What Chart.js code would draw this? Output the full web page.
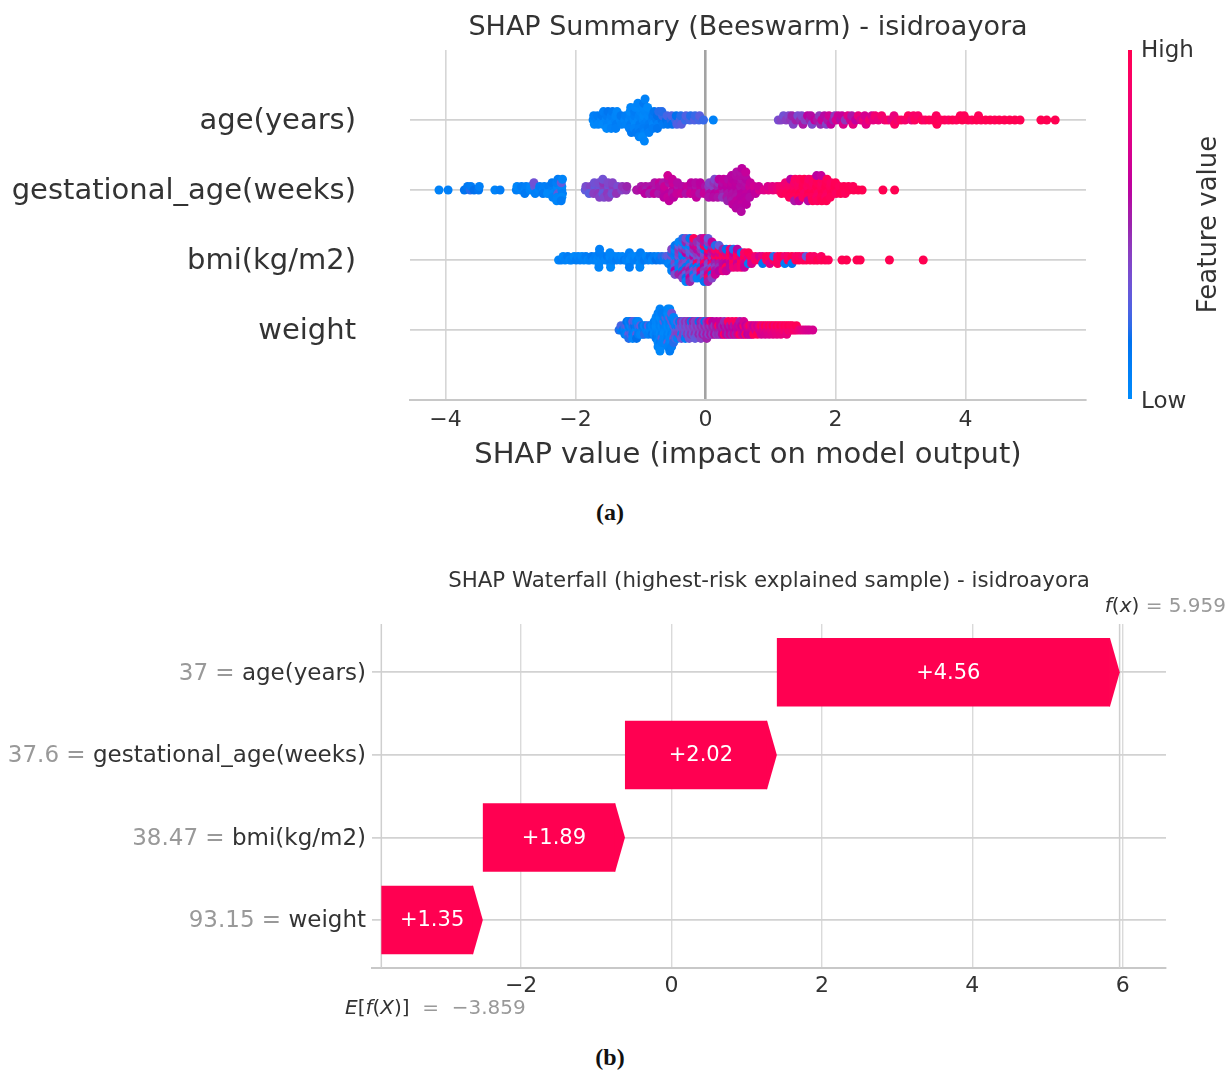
<!DOCTYPE html>
<html>
<head>
<meta charset="utf-8">
<script src="https://cdn.jsdelivr.net/npm/chart.js@4.4.1/dist/chart.umd.min.js"></script>
<style>
  html, body { margin: 0; padding: 0; background: #fff; }
  #page { position: relative; width: 1228px; height: 1070px; overflow: hidden; background: #fff; }
  canvas { position: absolute; left: 0; }
  #swarm { top: 0; }
  #waterfall { top: 540px; }
  .cap { position: absolute; width: 60px; text-align: center; font-family: "Liberation Serif", "DejaVu Serif", serif;
         font-weight: bold; font-size: 24px; line-height: 24px; color: #111; }
</style>
</head>
<body>
<div id="page">
  <canvas id="swarm" width="1228" height="490"></canvas>
  <canvas id="waterfall" width="1228" height="490"></canvas>
  <div class="cap" style="left:580px; top:500px;">(a)</div>
  <div class="cap" style="left:580px; top:1045px;">(b)</div>
</div>
<script>
// ---------------- data: beeswarm ----------------
// Feature order, top row first.
const features = ['age(years)', 'gestational_age(weeks)', 'bmi(kg/m2)', 'weight'];
const swarmTitle = 'SHAP Summary (Beeswarm) - isidroayora';
const swarmXLabel = 'SHAP value (impact on model output)';
const swarmXTicks = [-4, -2, 0, 2, 4];

// Each sample: [SHAP value, normalised feature value (0 = low, 1 = high)]
const ageSamples = [
  [-1.73,.04],[-1.72,.08],[-1.71,.02],
  [-1.67,.06],[-1.66,.10],[-1.65,.03],
  [-1.60,.05],[-1.59,.12],[-1.58,.02],[-1.57,.08],
  [-1.53,.04],[-1.52,.10],[-1.51,.06],[-1.50,.14],[-1.52,.02],
  [-1.46,.05],[-1.45,.08],[-1.44,.03],[-1.43,.12],[-1.45,.06],
  [-1.39,.06],[-1.38,.04],[-1.37,.10],[-1.36,.03],[-1.38,.08],
  [-1.31,.05],[-1.30,.12],[-1.29,.07],
  [-1.24,.04],[-1.23,.09],[-1.22,.06],
  [-1.17,.03],[-1.16,.06],[-1.15,.10],[-1.16,.02],[-1.17,.08],[-1.15,.04],[-1.14,.12],
  [-1.10,.04],[-1.09,.08],[-1.08,.02],[-1.09,.10],[-1.10,.06],[-1.08,.03],[-1.07,.12],
  [-1.03,.03],[-1.02,.06],[-1.01,.10],[-1.00,.04],[-1.02,.08],[-1.03,.02],[-1.01,.12],[-1.04,.05],[-1.02,.07],
  [-0.96,.05],[-0.95,.02],[-0.94,.08],[-0.93,.04],[-0.95,.10],[-0.96,.03],[-0.94,.06],[-0.95,.12],[-0.97,.02],[-0.93,.07],[-0.94,.04],
  [-0.89,.06],[-0.88,.03],[-0.87,.10],[-0.86,.05],[-0.88,.12],[-0.89,.02],[-0.87,.08],
  [-0.82,.08],[-0.81,.12],[-0.80,.05],[-0.79,.15],[-0.81,.10],
  [-0.75,.12],[-0.74,.18],[-0.73,.08],[-0.72,.20],[-0.74,.14],
  [-0.67,.16],[-0.66,.22],[-0.65,.12],[-0.67,.20],
  [-0.60,.18],[-0.59,.24],[-0.58,.14],
  [-0.53,.20],[-0.52,.26],[-0.51,.16],
  [-0.46,.22],[-0.45,.18],[-0.44,.26],
  [-0.39,.24],[-0.38,.20],[-0.37,.28],
  [-0.31,.22],[-0.30,.26],
  [-0.24,.24],[-0.23,.20],
  [-0.17,.26],[-0.16,.22],
  [-0.10,.24],[-0.09,.28],
  [-0.03,.22],
  [0.12,.06],
  [1.12,.36],[1.16,.40],[1.20,.34],[1.24,.42],[1.28,.38],[1.31,.45],[1.33,.50],[1.35,.40],[1.39,.52],[1.42,.36],
  [1.46,.48],[1.48,.38],[1.50,.55],[1.53,.42],[1.57,.60],[1.61,.50],[1.62,.58],[1.64,.38],[1.68,.62],[1.72,.55],
  [1.75,.45],[1.77,.48],[1.79,.65],[1.83,.58],[1.86,.40],[1.88,.55],[1.90,.68],[1.93,.62],[1.97,.50],[1.99,.44],
  [2.01,.70],[2.04,.66],[2.08,.58],[2.10,.64],[2.12,.72],[2.15,.45],[2.19,.75],[2.23,.68],[2.25,.55],[2.27,.78],
  [2.31,.62],[2.35,.80],[2.39,.72],[2.43,.82],[2.45,.70],[2.47,.76],[2.52,.85],[2.56,.70],[2.58,.78],[2.61,.86],
  [2.66,.80],[2.71,.88],[2.76,.84],[2.81,.90],[2.86,.78],[2.90,.80],[2.91,.92],[2.96,.86],[3.01,.93],[3.07,.88],
  [3.12,.95],[3.17,.82],[3.20,.90],[3.22,.94],[3.27,.90],[3.33,.96],[3.38,.92],[3.44,.97],[3.50,.94],[3.55,.94],
  [3.56,.98],[3.62,.95],[3.68,.97],[3.74,.93],[3.80,.99],[3.86,.96],[3.92,.98],[3.95,1],[3.98,.97],[4.04,.99],
  [4.10,.96],[4.17,1],[4.20,.97],[4.24,.98],[4.31,.99],[4.38,1],[4.45,.98],[4.52,1],[4.60,.99],[4.68,1],
  [4.76,1],[4.84,.99],[5.16,1],[5.25,1],[5.38,1]
];

const gestSamples = [
  [-4.10,.06],[-3.96,.08],
  [-3.71,.16],[-3.66,.12],[-3.62,.20],[-3.61,.10],[-3.56,.18],[-3.49,.14],[-3.48,.08],
  [-3.24,.06],[-3.16,.10],
  [-2.91,.08],[-2.90,.04],
  [-2.84,.06],[-2.83,.10],
  [-2.77,.04],[-2.76,.08],[-2.78,.12],
  [-2.70,.06],[-2.69,.03],
  [-2.63,.05],[-2.63,.30],[-2.62,.08],[-2.64,.34],
  [-2.56,.06],[-2.55,.10],
  [-2.49,.04],[-2.48,.08],[-2.50,.12],
  [-2.42,.05],[-2.41,.10],[-2.43,.02],
  [-2.35,.04],[-2.35,.08],[-2.34,.02],[-2.36,.12],[-2.35,.06],
  [-2.28,.05],[-2.28,.02],[-2.27,.30],[-2.29,.08],[-2.28,.04],[-2.27,.10],[-2.29,.03],
  [-2.21,.06],[-2.21,.03],[-2.20,.08],[-2.22,.30],[-2.21,.02],[-2.20,.05],[-2.22,.10],
  [-1.85,.30],[-1.84,.36],
  [-1.78,.34],[-1.77,.40],[-1.79,.28],
  [-1.71,.36],[-1.70,.30],[-1.72,.42],[-1.71,.34],
  [-1.64,.38],[-1.63,.32],[-1.65,.44],[-1.64,.36],[-1.63,.40],
  [-1.57,.36],[-1.56,.42],[-1.58,.30],[-1.57,.46],[-1.56,.38],[-1.58,.34],
  [-1.50,.40],[-1.49,.34],[-1.51,.44],[-1.50,.38],[-1.49,.42],
  [-1.43,.38],[-1.42,.44],[-1.44,.34],[-1.43,.40],
  [-1.36,.42],[-1.35,.36],[-1.37,.46],
  [-1.29,.40],[-1.28,.46],
  [-1.22,.44],[-1.21,.50],
  [-1.06,.52],[-1.05,.56],
  [-0.99,.54],[-0.98,.58],
  [-0.92,.56],[-0.91,.52],[-0.93,.60],
  [-0.85,.55],[-0.84,.60],[-0.86,.52],
  [-0.78,.58],[-0.77,.54],[-0.79,.62],[-0.78,.56],
  [-0.71,.56],[-0.70,.60],[-0.72,.54],[-0.71,.64],[-0.70,.58],
  [-0.64,.58],[-0.63,.62],[-0.65,.55],[-0.64,.60],[-0.63,.66],
  [-0.57,.60],[-0.56,.56],[-0.58,.64],[-0.57,.58],[-0.56,.62],[-0.58,.68],
  [-0.50,.58],[-0.49,.62],[-0.51,.56],[-0.50,.66],[-0.49,.60],[-0.51,.64],
  [-0.43,.60],[-0.42,.56],[-0.44,.64],[-0.43,.58],
  [-0.36,.62],[-0.35,.58],[-0.37,.66],
  [-0.29,.60],[-0.28,.64],[-0.30,.56],
  [-0.22,.62],[-0.21,.58],[-0.23,.66],[-0.22,.60],
  [-0.15,.60],[-0.14,.56],[-0.16,.64],[-0.15,.58],[-0.14,.62],
  [-0.08,.58],[-0.07,.62],[-0.09,.55],[-0.08,.60],
  [-0.01,.60],[0.00,.56],[-0.02,.64],
  [0.06,.52],[0.05,.44],[0.07,.58],[0.06,.40],[0.05,.56],
  [0.13,.56],[0.12,.42],[0.14,.60],[0.13,.46],[0.12,.58],[0.14,.38],
  [0.20,.58],[0.19,.50],[0.21,.62],[0.20,.44],[0.19,.56],[0.21,.60],
  [0.27,.56],[0.26,.60],[0.28,.52],[0.27,.58],[0.26,.46],[0.28,.62],
  [0.34,.58],[0.33,.60],[0.35,.55],[0.34,.62],[0.33,.56],[0.35,.58],[0.34,.50],
  [0.41,.58],[0.40,.60],[0.42,.56],[0.41,.62],[0.40,.57],[0.42,.60],[0.41,.55],[0.40,.59],[0.42,.61],
  [0.48,.58],[0.47,.60],[0.49,.57],[0.48,.61],[0.47,.56],[0.49,.59],[0.48,.62],[0.47,.58],[0.49,.60],[0.48,.57],[0.47,.59],
  [0.55,.59],[0.54,.57],[0.56,.60],[0.55,.58],[0.54,.61],[0.56,.56],[0.55,.60],[0.54,.58],[0.56,.62],[0.55,.57],[0.54,.59],[0.56,.60],[0.55,.58],
  [0.62,.60],[0.61,.58],[0.63,.62],[0.62,.57],[0.61,.60],[0.63,.59],[0.62,.61],[0.61,.58],[0.63,.60],[0.62,.64],
  [0.69,.62],[0.68,.66],[0.70,.60],[0.69,.64],[0.68,.58],
  [0.76,.64],[0.75,.68],[0.77,.62],
  [0.83,.70],[0.82,.66],
  [0.90,.74],
  [0.97,.78],[0.96,.72],
  [1.04,.80],[1.03,.76],
  [1.11,.84],[1.10,.80],
  [1.16,.90],[1.15,.86],[1.17,.94],
  [1.23,.92],[1.22,.88],[1.24,.96],[1.23,.84],
  [1.30,.94],[1.29,.90],[1.31,.98],[1.30,.86],[1.29,.95],[1.31,.60],
  [1.37,.95],[1.36,.92],[1.38,.98],[1.37,.88],[1.36,.96],[1.38,.93],[1.37,.55],
  [1.44,.96],[1.43,.92],[1.45,.99],[1.44,.90],[1.43,.97],[1.45,.94],[1.44,.62],
  [1.51,.95],[1.50,.98],[1.52,.91],[1.51,.97],[1.50,.93],[1.52,.99],
  [1.58,.96],[1.57,.92],[1.59,.99],[1.58,.94],[1.57,.97],[1.59,.90],[1.58,.58],
  [1.65,.97],[1.64,.94],[1.66,.99],[1.65,.91],[1.64,.96],[1.66,.93],[1.65,.98],
  [1.72,.96],[1.71,.99],[1.73,.93],[1.72,.97],[1.71,.90],[1.73,.98],[1.72,.94],[1.71,.60],
  [1.79,.98],[1.78,.95],[1.80,.99],[1.79,.92],[1.78,.97],[1.80,.94],[1.79,.99],[1.78,.64],
  [1.86,.97],[1.85,.99],[1.87,.94],[1.86,.98],[1.85,.92],[1.87,.96],[1.86,.99],
  [1.93,.98],[1.92,.95],[1.94,.99],[1.93,.93],[1.92,.97],
  [2.00,.97],[1.99,.99],[2.01,.94],[2.00,.98],
  [2.07,.98],[2.06,.95],[2.08,.99],
  [2.14,.97],[2.13,.99],[2.15,.96],
  [2.21,.98],[2.20,.99],
  [2.28,.99],[2.27,.97],
  [2.35,.99],
  [2.41,1],
  [2.73,1],[2.91,1]
];

const bmiSamples = [
  [-2.26,.04],[-2.22,.08],[-2.19,.03],[-2.16,.06],[-2.12,.10],[-2.09,.04],[-2.06,.07],[-2.02,.02],[-1.99,.09],[-1.96,.05],
  [-1.93,.08],[-1.90,.03],[-1.87,.06],[-1.84,.10],[-1.81,.04],[-1.78,.07],[-1.75,.12],[-1.72,.05],[-1.69,.08],[-1.66,.03],
  [-1.64,.06],[-1.64,.02],[-1.63,.10],[-1.64,.05],[-1.63,.08],
  [-1.60,.04],[-1.57,.09],[-1.54,.05],[-1.51,.12],
  [-1.47,.06],[-1.47,.03],[-1.46,.09],[-1.47,.05],[-1.46,.02],
  [-1.43,.07],[-1.40,.04],[-1.37,.10],[-1.34,.05],[-1.31,.08],[-1.28,.03],[-1.25,.12],[-1.22,.06],[-1.19,.09],
  [-1.17,.04],[-1.17,.08],[-1.16,.02],[-1.17,.10],
  [-1.13,.05],[-1.10,.08],[-1.07,.03],[-1.04,.10],
  [-1.01,.06],[-1.01,.02],[-1.00,.09],[-1.01,.04],
  [-0.97,.07],[-0.94,.12],[-0.91,.05],[-0.88,.09],[-0.85,.15],[-0.82,.06],[-0.79,.10],[-0.76,.18],[-0.73,.08],[-0.70,.14],
  [-0.67,.20],[-0.64,.10],[-0.61,.24],
  [-0.58,.10],[-0.58,.30],[-0.57,.06],
  [-0.52,.08],[-0.52,.34],[-0.52,.04],[-0.52,.20],[-0.52,.12],[-0.52,.40],[-0.52,.06],
  [-0.47,.30],[-0.47,.06],[-0.47,.40],[-0.47,.10],[-0.47,.26],[-0.47,.04],[-0.47,.60],[-0.47,.14],[-0.47,.36],
  [-0.41,.12],[-0.41,.36],[-0.41,.06],[-0.41,.42],[-0.41,.20],[-0.41,.46],[-0.41,.08],[-0.41,.30],[-0.41,.50],[-0.41,.04],
  [-0.35,.34],[-0.35,.10],[-0.35,.44],[-0.35,.06],[-0.35,.38],[-0.35,.48],[-0.35,.14],[-0.35,.30],[-0.35,.56],[-0.35,.04],[-0.35,.40],[-0.35,.20],
  [-0.30,.40],[-0.30,.08],[-0.30,.36],[-0.30,.60],[-0.30,.12],[-0.30,.44],[-0.30,.54],[-0.30,.06],[-0.30,.30],[-0.30,.50],[-0.30,.18],[-0.30,.38],[-0.30,.04],
  [-0.24,.36],[-0.24,.46],[-0.24,.10],[-0.24,.26],[-0.24,.40],[-0.24,.30],[-0.24,.56],[-0.24,.06],[-0.24,.44],[-0.24,.34],[-0.24,.62],[-0.24,.14],[-0.24,.50],
  [-0.18,.42],[-0.18,.60],[-0.18,.30],[-0.18,.28],[-0.18,.12],[-0.18,.46],[-0.18,.38],[-0.18,.66],[-0.18,.08],[-0.18,.52],[-0.18,.34],[-0.18,.96],
  [-0.13,.50],[-0.13,.36],[-0.13,.94],[-0.13,.44],[-0.13,.10],[-0.13,.58],[-0.13,.40],[-0.13,.70],[-0.13,.30],[-0.13,.48],[-0.13,.06],
  [-0.07,.46],[-0.07,.36],[-0.07,.38],[-0.07,.56],[-0.07,.12],[-0.07,.44],[-0.07,.98],[-0.07,.32],[-0.07,.62],[-0.07,.40],[-0.07,.08],[-0.07,.52],
  [-0.02,.50],[-0.02,.42],[-0.02,.92],[-0.02,.36],[-0.02,.60],[-0.02,.10],[-0.02,.46],[-0.02,.96],[-0.02,.30],[-0.02,.56],[-0.02,.40],[-0.02,.70],[-0.02,.14],
  [0.04,.56],[0.04,.90],[0.04,.40],[0.04,.62],[0.04,.34],[0.04,.98],[0.04,.48],[0.04,.12],[0.04,.66],[0.04,.44],[0.04,.94],[0.04,.30],[0.04,.52],
  [0.10,.60],[0.10,.44],[0.10,.92],[0.10,.52],[0.10,.36],[0.10,.70],[0.10,.98],[0.10,.48],[0.10,.16],[0.10,.64],[0.10,.40],
  [0.15,.62],[0.15,.94],[0.15,.50],[0.15,.70],[0.15,.42],[0.15,.90],[0.15,.56],[0.15,.20],[0.15,.66],
  [0.21,.66],[0.21,.96],[0.21,.54],[0.21,.72],[0.21,.46],[0.21,.92],[0.21,.60],[0.21,.30],
  [0.27,.70],[0.27,.90],[0.27,.58],[0.27,.98],[0.27,.64],[0.27,.50],[0.27,.76],
  [0.32,.68],[0.32,.94],[0.32,.60],[0.32,.74],[0.32,.96],[0.32,.16],[0.32,.66],
  [0.38,.72],[0.38,.92],[0.38,.64],[0.38,.98],[0.38,.58],[0.38,.80],
  [0.43,.90],[0.43,.70],[0.43,.96],[0.43,.62],[0.43,.84],[0.43,.20],
  [0.49,.74],[0.49,.94],[0.49,.66],[0.49,.98],[0.49,.80],[0.49,.60],
  [0.55,.92],[0.55,.72],[0.55,.96],[0.55,.12],[0.55,.86],
  [0.60,.78],[0.60,.98],[0.60,.70],[0.60,.90],[0.60,.64],
  [0.66,.94],[0.66,.76],[0.66,.10],[0.66,.98],
  [0.71,.80],[0.71,.96],[0.71,.72],
  [0.77,.92],[0.77,.84],
  [0.83,.92],[0.83,.70],
  [0.88,.96],[0.88,.80],[0.88,.14],
  [0.94,.90],[0.94,.98],
  [0.99,.86],[0.99,.96],[0.99,.74],
  [1.05,.94],[1.05,.20],
  [1.11,.98],[1.11,.88],[1.11,.92],
  [1.16,.90],[1.16,.99],
  [1.22,.96],[1.22,.84],[1.22,.10],
  [1.27,.98],[1.27,.90],
  [1.33,.94],[1.33,.99],[1.33,.12],
  [1.39,.97],[1.39,.88],
  [1.44,.99],[1.44,.92],
  [1.50,.96],[1.50,.86],
  [1.55,.98],[1.55,.30],
  [1.61,.99],[1.61,.94],
  [1.67,.97],[1.67,.90],
  [1.72,.99],
  [1.78,.98],[1.78,.93],
  [1.84,.99],
  [1.89,.97],
  [2.10,.99],[2.17,1],[2.33,.99],[2.38,1],
  [2.83,1],[3.35,1]
];

const weightSamples = [
  [-1.33,.20],
  [-1.30,.08],[-1.30,.24],
  [-1.27,.12],
  [-1.24,.06],[-1.24,.22],[-1.24,.10],
  [-1.21,.08],[-1.21,.28],[-1.21,.04],[-1.21,.18],
  [-1.18,.05],[-1.18,.12],[-1.18,.30],[-1.18,.08],[-1.18,.20],
  [-1.15,.10],[-1.15,.04],[-1.15,.26],[-1.15,.14],
  [-1.12,.06],[-1.12,.20],[-1.12,.10],[-1.12,.32],[-1.12,.04],
  [-1.09,.08],[-1.09,.16],[-1.09,.05],[-1.09,.24],
  [-1.06,.04],[-1.06,.12],[-1.06,.28],[-1.06,.07],[-1.06,.18],
  [-1.03,.06],[-1.03,.22],[-1.03,.10],[-1.03,.04],
  [-1.00,.08],[-1.00,.30],[-1.00,.05],
  [-0.97,.06],[-0.97,.14],[-0.97,.03],
  [-0.94,.10],[-0.94,.04],[-0.94,.20],
  [-0.91,.06],[-0.91,.12],
  [-0.88,.04],[-0.88,.26],[-0.88,.08],
  [-0.85,.05],[-0.85,.10],
  [-0.82,.06],[-0.82,.03],[-0.82,.14],
  [-0.79,.04],[-0.79,.08],[-0.79,.02],[-0.79,.10],
  [-0.76,.05],[-0.76,.02],[-0.76,.08],[-0.76,.04],[-0.76,.12],[-0.76,.03],
  [-0.73,.04],[-0.73,.02],[-0.73,.07],[-0.73,.03],[-0.73,.10],[-0.73,.05],[-0.73,.01],[-0.73,.08],[-0.73,.04],
  [-0.70,.03],[-0.70,.06],[-0.70,.02],[-0.70,.08],[-0.70,.04],[-0.70,.01],[-0.70,.10],[-0.70,.05],[-0.70,.03],[-0.70,.07],[-0.70,.02],
  [-0.67,.05],[-0.67,.02],[-0.67,.08],[-0.67,.04],[-0.67,.28],[-0.67,.03],[-0.67,.06],[-0.67,.10],
  [-0.64,.04],[-0.64,.07],[-0.64,.02],[-0.64,.30],[-0.64,.05],[-0.64,.09],
  [-0.61,.03],[-0.61,.06],[-0.61,.02],[-0.61,.08],[-0.61,.04],[-0.61,.26],[-0.61,.05],[-0.61,.10],
  [-0.58,.04],[-0.58,.02],[-0.58,.07],[-0.58,.03],[-0.58,.09],[-0.58,.05],[-0.58,.30],[-0.58,.01],[-0.58,.06],[-0.58,.04],
  [-0.55,.03],[-0.55,.06],[-0.55,.02],[-0.55,.08],[-0.55,.04],[-0.55,.32],[-0.55,.05],[-0.55,.01],[-0.55,.07],[-0.55,.03],[-0.55,.10],
  [-0.52,.05],[-0.52,.02],[-0.52,.08],[-0.52,.30],[-0.52,.04],[-0.52,.06],[-0.52,.03],[-0.52,.34],[-0.52,.09],
  [-0.49,.06],[-0.49,.28],[-0.49,.03],[-0.49,.10],[-0.49,.36],[-0.49,.05],[-0.49,.20],
  [-0.46,.30],[-0.46,.08],[-0.46,.38],[-0.46,.04],[-0.46,.24],
  [-0.43,.32],[-0.43,.10],[-0.43,.40],[-0.43,.28],[-0.43,.06],
  [-0.40,.34],[-0.40,.26],[-0.40,.42],[-0.40,.12],
  [-0.37,.30],[-0.37,.38],[-0.37,.08],[-0.37,.44],[-0.37,.32],
  [-0.34,.36],[-0.34,.28],[-0.34,.42],[-0.34,.30],
  [-0.31,.34],[-0.31,.40],[-0.31,.26],[-0.31,.46],[-0.31,.10],
  [-0.28,.38],[-0.28,.32],[-0.28,.44],[-0.28,.36],
  [-0.25,.36],[-0.25,.42],[-0.25,.30],[-0.25,.48],[-0.25,.34],
  [-0.22,.40],[-0.22,.34],[-0.22,.46],[-0.22,.12],
  [-0.19,.38],[-0.19,.44],[-0.19,.32],[-0.19,.50],
  [-0.16,.42],[-0.16,.36],[-0.16,.48],[-0.16,.40],[-0.16,.30],
  [-0.13,.40],[-0.13,.46],[-0.13,.34],[-0.13,.44],
  [-0.10,.44],[-0.10,.38],[-0.10,.50],[-0.10,.16],
  [-0.07,.42],[-0.07,.48],[-0.07,.36],[-0.07,.52],[-0.07,.40],
  [-0.04,.46],[-0.04,.40],[-0.04,.54],[-0.04,.44],
  [-0.01,.44],[-0.01,.50],[-0.01,.38],[-0.01,.14],
  [0.02,.48],[0.02,.42],[0.02,.56],[0.02,.46],[0.02,.52],
  [0.05,.46],[0.05,.52],[0.05,.40],[0.05,.58],
  [0.08,.50],[0.08,.44],[0.08,.56],[0.08,.92],
  [0.11,.48],[0.11,.54],[0.11,.42],[0.11,.60],
  [0.14,.52],[0.14,.46],[0.14,.58],
  [0.17,.50],[0.17,.56],[0.17,.44],[0.17,.62],
  [0.20,.54],[0.20,.90],[0.20,.48],
  [0.23,.52],[0.23,.58],[0.23,.46],[0.23,.64],
  [0.26,.56],[0.26,.50],[0.26,.62],
  [0.29,.54],[0.29,.60],[0.29,.92],[0.29,.48],
  [0.32,.58],[0.32,.52],[0.32,.64],
  [0.35,.56],[0.35,.62],[0.35,.50],[0.35,.94],
  [0.38,.60],[0.38,.54],[0.38,.66],
  [0.41,.58],[0.41,.64],[0.41,.52],[0.41,.90],
  [0.44,.62],[0.44,.56],[0.44,.68],
  [0.47,.60],[0.47,.66],[0.47,.54],[0.47,.94],
  [0.50,.64],[0.50,.58],[0.50,.70],
  [0.53,.62],[0.53,.68],[0.53,.96],[0.53,.56],
  [0.56,.66],[0.56,.60],[0.56,.72],
  [0.59,.64],[0.59,.92],[0.59,.58],[0.59,.70],
  [0.62,.68],[0.62,.62],[0.62,.96],
  [0.65,.66],[0.65,.72],[0.65,.60],
  [0.68,.70],[0.68,.94],[0.68,.64],
  [0.71,.68],[0.71,.74],[0.71,.62],
  [0.74,.72],[0.74,.66],[0.74,.96],
  [0.77,.70],[0.77,.76],
  [0.80,.74],[0.80,.68],[0.80,.98],
  [0.83,.72],[0.83,.78],
  [0.86,.76],[0.86,.96],[0.86,.70],
  [0.89,.74],[0.89,.80],
  [0.92,.78],[0.92,.98],[0.92,.72],
  [0.95,.76],[0.95,.82],
  [0.98,.80],[0.98,.97],[0.98,.74],
  [1.01,.78],[1.01,.84],
  [1.04,.82],[1.04,.99],[1.04,.76],
  [1.07,.80],[1.07,.86],
  [1.10,.84],[1.10,.98],[1.10,.78],
  [1.13,.82],[1.13,.88],
  [1.16,.86],[1.16,.99],[1.16,.80],
  [1.19,.84],[1.19,.90],
  [1.22,.88],[1.22,.98],
  [1.25,.86],[1.25,.92],[1.25,.80],
  [1.28,.90],[1.28,.99],
  [1.31,.84],[1.31,.94],
  [1.34,.88],[1.34,.96],
  [1.37,.90],
  [1.40,.86],[1.40,.98],
  [1.44,.82],[1.48,.78],[1.52,.74],[1.56,.72],[1.60,.70],[1.65,.70]
];

// ---------------- data: waterfall ----------------
const wfTitle = 'SHAP Waterfall (highest-risk explained sample) - isidroayora';
const wfFeatures = ['age(years)', 'gestational_age(weeks)', 'bmi(kg/m2)', 'weight'];
const wfFeatureValues = ['37', '37.6', '38.47', '93.15'];
const wfShap = [4.56, 2.02, 1.89, 1.35];
const wfBase = -3.859;     // E[f(X)]
const wfOutput = 5.959;    // f(x)
const wfXTicks = [-2, 0, 2, 4, 6];

// ---------------- helpers ----------------
const SANS = '"DejaVu Sans", "Liberation Sans", Arial, sans-serif';
const DARK = '#333333';
const GRAY = '#999999';
const BAR_RED = '#ff0051';
const ROW_HEIGHT = 0.4;

function font(px, style) { return (style ? style + ' ' : '') + px + 'px ' + SANS; }
function minusLabel(v) { return v < 0 ? '\u2212' + Math.abs(v) : String(v); }

// Blue -> red map interpolated in LCh space
function redBlue(t) {
  t = Math.min(1, Math.max(0, t));
  const L = t < 0.5 ? 54 - 28 * t : 40 + 28 * (t - 0.5);
  const C = 70 + 20 * t;
  const h = 4.6588 + (0.35470565 + 2 * Math.PI - 4.6588) * t;
  const a = C * Math.cos(h), b = C * Math.sin(h);
  const fy = (L + 16) / 116, fx = fy + a / 500, fz = fy - b / 200;
  const inv = f => f > 6 / 29 ? f * f * f : 3 * (6 / 29) * (6 / 29) * (f - 4 / 29);
  const X = 0.95047 * inv(fx), Y = inv(fy), Z = 1.08883 * inv(fz);
  const lin = [3.2404542 * X - 1.5371385 * Y - 0.4985314 * Z,
              -0.9692660 * X + 1.8760108 * Y + 0.0415560 * Z,
               0.0556434 * X - 0.2040259 * Y + 1.0572252 * Z];
  const rgb = lin.map(c => {
    c = c <= 0.0031308 ? 12.92 * c : 1.055 * Math.pow(c, 1 / 2.4) - 0.055;
    return Math.round(255 * Math.min(1, Math.max(0, c)));
  });
  return 'rgb(' + rgb.join(',') + ')';
}

// Beeswarm stacking: bin the values into 100 bins, then stack each bin outward
function swarmOffsets(values) {
  const lo = Math.min(...values), hi = Math.max(...values);
  const quant = values.map(v => Math.round(100 * (v - lo) / (hi - lo + 1e-8)));
  const order = values.map((_, i) => i).sort((p, q) => quant[p] - quant[q] || p - q);
  const ys = new Array(values.length).fill(0);
  let layer = 0, lastBin = -1;
  for (const i of order) {
    if (quant[i] !== lastBin) layer = 0;
    ys[i] = Math.ceil(layer / 2) * ((layer % 2) * 2 - 1);
    layer++;
    lastBin = quant[i];
  }
  const k = 0.9 * (ROW_HEIGHT / Math.max(...ys.map(v => v + 1)));
  return ys.map(v => v * k);
}

// ---------------- chart (a): beeswarm ----------------
const swarmRows = [ageSamples, gestSamples, bmiSamples, weightSamples];
const swarmDatasets = swarmRows.map((rows, i) => {
  const rowY = features.length - 1 - i;
  const offs = swarmOffsets(rows.map(r => r[0]));
  return {
    label: features[i],
    data: rows.map((r, j) => ({ x: r[0], y: rowY + offs[j] })),
    backgroundColor: rows.map(r => redBlue(r[1])),
    pointRadius: 4.5,
    pointHoverRadius: 4.5,
    pointBorderWidth: 0,
    borderWidth: 0
  };
});

const swarmDecor = {
  id: 'swarmDecor',
  afterDraw(chart) {
    const { ctx, chartArea: a } = chart;
    ctx.save();
    ctx.fillStyle = DARK;
    ctx.textBaseline = 'middle';
    ctx.textAlign = 'center';
    ctx.font = font(27);
    ctx.fillText(swarmTitle, (a.left + a.right) / 2, 28);

    // colour bar
    const x0 = 1128, top = a.top, bot = a.bottom - 1;
    const g = ctx.createLinearGradient(0, bot, 0, top);
    for (let i = 0; i <= 24; i++) g.addColorStop(i / 24, redBlue(i / 24));
    ctx.fillStyle = g;
    ctx.fillRect(x0, top, 4, bot - top);

    ctx.fillStyle = DARK;
    ctx.font = font(23);
    ctx.textAlign = 'left';
    ctx.fillText('High', x0 + 13, top + 1);
    ctx.fillText('Low', x0 + 13, bot + 3);
    ctx.translate(1209, (top + bot) / 2);
    ctx.rotate(-Math.PI / 2);
    ctx.textAlign = 'center';
    ctx.font = font(26);
    ctx.fillText('Feature value', 0, 0);
    ctx.restore();
  }
};

new Chart(document.getElementById('swarm'), {
  type: 'scatter',
  data: { datasets: swarmDatasets },
  options: {
    responsive: false,
    devicePixelRatio: 1,
    animation: false,
    events: [],
    layout: { padding: { left: 0, top: 50, right: 142, bottom: 0 } },
    plugins: { legend: { display: false }, tooltip: { enabled: false } },
    scales: {
      x: {
        type: 'linear',
        min: -4.546,
        max: 5.854,
        afterBuildTicks: s => { s.ticks = swarmXTicks.map(v => ({ value: v })); },
        afterFit: s => { s.height = 90; s.paddingLeft = 0; s.paddingRight = 0; },
        ticks: {
          autoSkip: false, maxRotation: 0, padding: 7,
          font: { family: SANS, size: 22 }, color: DARK,
          callback: v => minusLabel(v)
        },
        grid: {
          drawTicks: false,
          color: c => (c.tick && c.tick.value === 0) ? '#a3a3a3' : '#d6d6d6',
          lineWidth: c => (c.tick && c.tick.value === 0) ? 2.6 : 1.6
        },
        border: { display: true, color: '#c8c8c8', width: 2 },
        title: {
          display: true, text: swarmXLabel, color: DARK,
          font: { family: SANS, size: 29 }, padding: { top: 0, bottom: 17.6 }
        }
      },
      y: {
        type: 'linear',
        min: -1,
        max: 4,
        afterBuildTicks: s => { s.ticks = [0, 1, 2, 3].map(v => ({ value: v })); },
        afterFit: s => { s.width = 410; s.paddingTop = 0; s.paddingBottom = 0; },
        ticks: {
          autoSkip: false, padding: 54, labelOffset: 1.5,
          font: { family: SANS, size: 29 }, color: DARK,
          callback: v => features[features.length - 1 - v]
        },
        grid: { drawTicks: false, color: '#d2d2d2', lineWidth: 1.8 },
        border: { display: false }
      }
    }
  },
  plugins: [swarmDecor]
});

// ---------------- chart (b): waterfall ----------------
const HEAD = 0.13; // arrow head length in x units
const wfSegments = [];
(function () {
  let acc = wfBase;
  for (let i = wfFeatures.length - 1; i >= 0; i--) {
    wfSegments[i] = { row: wfFeatures.length - 1 - i, start: acc, end: acc + wfShap[i], value: wfShap[i] };
    acc += wfShap[i];
  }
})();

function drawPieces(ctx, pieces, x, y, align, px) {
  let total = 0;
  pieces.forEach(p => { ctx.font = font(px, p[1] ? 'italic' : ''); total += ctx.measureText(p[0]).width; });
  let cx = align === 'right' ? x - total : x;
  ctx.textAlign = 'left';
  pieces.forEach(p => {
    ctx.font = font(px, p[1] ? 'italic' : '');
    ctx.fillStyle = p[2];
    ctx.fillText(p[0], cx, y);
    cx += ctx.measureText(p[0]).width;
  });
}

const wfDecor = {
  id: 'wfDecor',
  beforeDatasetsDraw(chart) {
    const { ctx, chartArea: a, scales: { x } } = chart;
    ctx.save();
    ctx.strokeStyle = '#cfcfcf';
    ctx.lineWidth = 1.5;
    [wfBase, wfOutput].forEach(v => {
      const px = x.getPixelForValue(v);
      ctx.beginPath(); ctx.moveTo(px, a.top); ctx.lineTo(px, a.bottom); ctx.stroke();
    });
    ctx.restore();
  },
  afterDatasetsDraw(chart) {
    const { ctx, scales: { x } } = chart;
    const meta = chart.getDatasetMeta(0);
    ctx.save();
    meta.data.forEach((bar, i) => {
      const p = bar.getProps(['y', 'height'], true);
      const seg = wfSegments[i];
      const half = p.height / 2;
      const body = x.getPixelForValue(seg.end - HEAD);
      const tip = x.getPixelForValue(seg.end);
      ctx.fillStyle = BAR_RED;
      ctx.beginPath();
      ctx.moveTo(body - 0.6, p.y - half);
      ctx.lineTo(body, p.y - half);
      ctx.lineTo(tip, p.y);
      ctx.lineTo(body, p.y + half);
      ctx.lineTo(body - 0.6, p.y + half);
      ctx.closePath();
      ctx.fill();
      ctx.fillStyle = '#ffffff';
      ctx.font = font(21);
      ctx.textAlign = 'center';
      ctx.textBaseline = 'middle';
      ctx.fillText('+' + seg.value.toFixed(2), x.getPixelForValue((seg.start + seg.end) / 2), p.y + 1);
    });
    ctx.restore();
  },
  afterDraw(chart) {
    const { ctx, chartArea: a, scales: { y } } = chart;
    ctx.save();
    ctx.textBaseline = 'middle';
    // title
    ctx.fillStyle = DARK;
    ctx.textAlign = 'center';
    ctx.font = font(21.3);
    ctx.fillText(wfTitle, (a.left + a.right) / 2, 41);
    // feature labels "value = name"
    ctx.font = font(23);
    ctx.textAlign = 'right';
    wfFeatures.forEach((name, i) => {
      const py = y.getPixelForValue(wfSegments[i].row) + 1.5;
      const xr = a.left - 6;
      ctx.fillStyle = DARK;
      ctx.fillText(name, xr, py);
      const w = ctx.measureText(name).width;
      ctx.fillStyle = GRAY;
      ctx.fillText(wfFeatureValues[i] + ' = ', xr - w, py);
    });
    // f(x) and E[f(X)]
    drawPieces(ctx, [['f', 1, DARK], ['(', 0, DARK], ['x', 1, DARK], [')', 0, DARK],
                     [' = ' + wfOutput.toFixed(3), 0, GRAY]], 1226, 67, 'right', 20);
    const baseTxt = (wfBase < 0 ? '\u2212' : '') + Math.abs(wfBase).toFixed(3);
    drawPieces(ctx, [['E', 1, DARK], ['[', 0, DARK], ['f', 1, DARK], ['(', 0, DARK], ['X', 1, DARK],
                     [')', 0, DARK], [']', 0, DARK], ['  =  ' + baseTxt, 0, GRAY]], 345, 469, 'left', 20);
    ctx.restore();
  }
};

new Chart(document.getElementById('waterfall'), {
  type: 'bar',
  data: {
    datasets: [{
      data: wfSegments.map(s => ({ y: s.row, x: [s.start, s.end - HEAD] })),
      backgroundColor: BAR_RED,
      borderWidth: 0,
      barPercentage: 0.83,
      categoryPercentage: 1
    }]
  },
  options: {
    indexAxis: 'y',
    responsive: false,
    devicePixelRatio: 1,
    animation: false,
    events: [],
    layout: { padding: { left: 0, top: 84, right: 62, bottom: 0 } },
    plugins: { legend: { display: false }, tooltip: { enabled: false } },
    scales: {
      x: {
        type: 'linear',
        min: -3.983,
        max: 6.576,
        afterBuildTicks: s => { s.ticks = wfXTicks.map(v => ({ value: v })); },
        afterFit: s => { s.height = 62; s.paddingLeft = 0; s.paddingRight = 0; },
        ticks: {
          autoSkip: false, maxRotation: 0, padding: 5,
          font: { family: SANS, size: 22 }, color: DARK,
          callback: v => minusLabel(v)
        },
        grid: { drawTicks: false, color: '#dadada', lineWidth: 1.4 },
        border: { display: true, color: '#c8c8c8', width: 2 }
      },
      y: {
        type: 'linear',
        min: -0.582,
        max: 3.586,
        offset: false,
        afterBuildTicks: s => { s.ticks = [0, 1, 2, 3].map(v => ({ value: v })); },
        afterFit: s => { s.width = 372; s.paddingTop = 0; s.paddingBottom = 0; },
        ticks: { display: false },
        grid: { drawTicks: false, offset: false, color: '#d2d2d2', lineWidth: 1.8 },
        border: { display: false }
      }
    }
  },
  plugins: [wfDecor]
});
</script>
</body>
</html>
